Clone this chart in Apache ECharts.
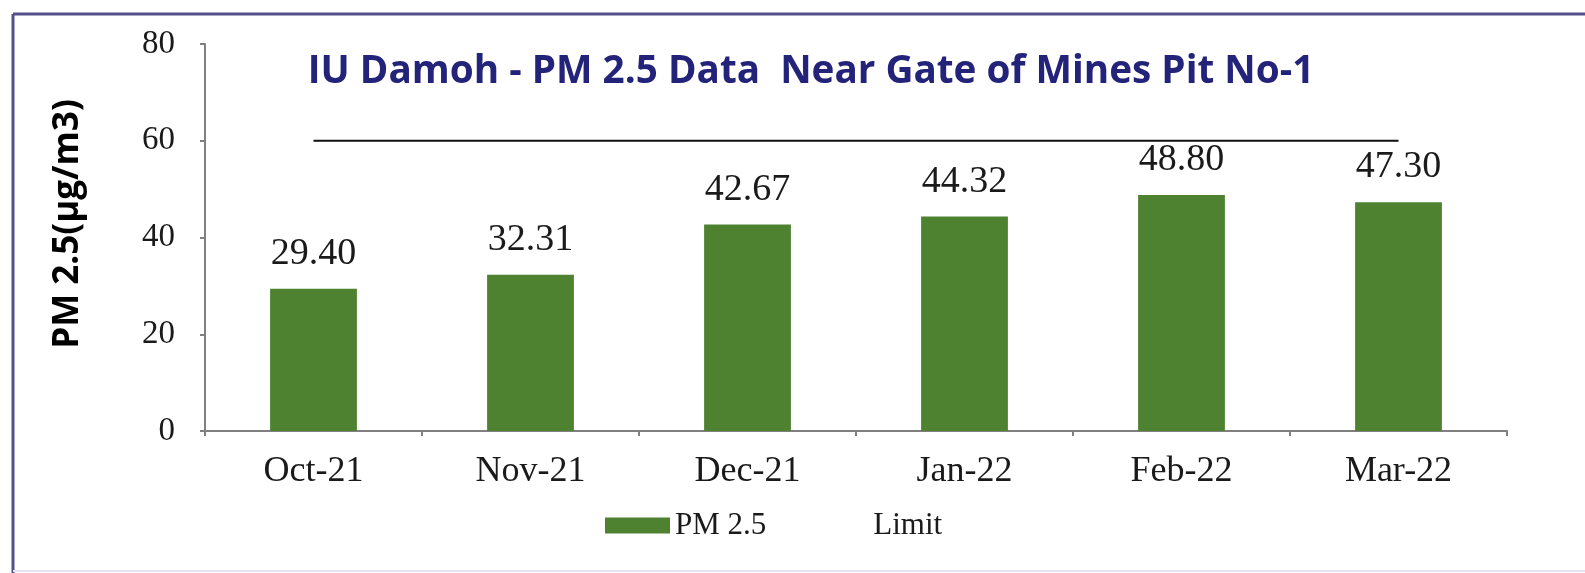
<!DOCTYPE html>
<html>
<head>
<meta charset="utf-8">
<script src="https://cdn.jsdelivr.net/npm/echarts@6/dist/echarts.min.js"></script>
<style>
html,body{margin:0;padding:0;background:#fff;}
#chart{width:1585px;height:573px;}
</style>
</head>
<body>
<div id="chart"></div>
<script>
const categories = ['Oct-21','Nov-21','Dec-21','Jan-22','Feb-22','Mar-22'];
const pm25 = [29.40, 32.31, 42.67, 44.32, 48.80, 47.30];
const limit = [60, 60, 60, 60, 60, 60];
const yTicks = {min: 0, max: 80, interval: 20};
const titleText = 'IU Damoh - PM 2.5 Data  Near Gate of Mines Pit No-1';
const yName = 'PM 2.5(µg/m3)';

const serif = '"Liberation Serif", "DejaVu Serif", serif';
const chart = echarts.init(document.getElementById('chart'));
chart.setOption({
  animation: false,
  backgroundColor: '#ffffff',
  title: {
    text: titleText,
    left: 806, top: 47, textAlign: 'center',
    textStyle: {fontFamily: '"Open Sans"', fontWeight: 'bold', fontSize: 38.7, color: '#24237a'}
  },
  grid: {left: 205, right: 78, top: 44, bottom: 142, containLabel: false},
  legend: {
    left: 600, top: 505,
    itemWidth: 65, itemHeight: 16, itemGap: 37,
    textStyle: {fontFamily: serif, fontSize: 31, color: '#1a1a1a'},
    data: [
      {name: 'PM 2.5', icon: 'rect'},
      {name: 'Limit', icon: 'rect', itemStyle: {opacity: 0}, lineStyle: {opacity: 0}}
    ]
  },
  xAxis: {
    type: 'category',
    data: categories,
    boundaryGap: true,
    axisLine: {lineStyle: {color: '#808080', width: 2}},
    axisTick: {show: true, alignWithLabel: false, length: 5, lineStyle: {color: '#808080', width: 2}},
    axisLabel: {fontFamily: serif, fontSize: 36, color: '#1a1a1a', margin: 23}
  },
  yAxis: {
    type: 'value',
    min: yTicks.min, max: yTicks.max, interval: yTicks.interval,
    axisLine: {show: true, lineStyle: {color: '#808080', width: 2}},
    axisTick: {show: true, length: 5, lineStyle: {color: '#808080', width: 2}},
    splitLine: {show: false},
    axisLabel: {fontFamily: serif, fontSize: 33, color: '#1a1a1a', margin: 30}
  },
  series: [
    {
      name: 'PM 2.5',
      type: 'bar',
      data: pm25,
      barWidth: '40%',
      itemStyle: {color: '#4e8231'},
      label: {
        show: true, position: 'top', distance: 16,
        fontFamily: serif, fontSize: 38, color: '#1a1a1a',
        formatter: p => p.value.toFixed(2)
      }
    },
    {
      name: 'Limit',
      type: 'line',
      data: limit,
      symbol: 'none',
      lineStyle: {color: '#111', width: 2}
    }
  ],
  graphic: [
    {type: 'text', x: 68, y: 224, rotation: Math.PI / 2,
      style: {text: yName, fontFamily: '"Open Sans"', fontWeight: 'bold', fontSize: 35, fill: '#000',
        align: 'center', verticalAlign: 'middle'}, silent: true},
    {type: 'line', shape: {x1: 13, y1: 14, x2: 1585, y2: 14}, style: {stroke: '#55508a', lineWidth: 3}, silent: true},
    {type: 'line', shape: {x1: 13, y1: 14, x2: 13, y2: 573}, style: {stroke: '#55508a', lineWidth: 3}, silent: true},
    {type: 'line', shape: {x1: 13, y1: 571, x2: 1585, y2: 571}, style: {stroke: '#e4e2f4', lineWidth: 2}, silent: true}
  ]
});
</script>
</body>
</html>
